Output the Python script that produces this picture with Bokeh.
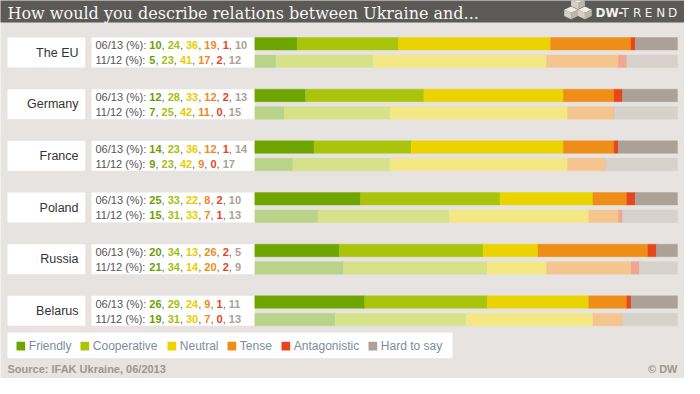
from bokeh.plotting import figure
from bokeh.models import Range1d, ColumnDataSource
from bokeh.core.properties import value
from bokeh.embed import file_html
from bokeh.resources import INLINE
import numpy as np

# ---------------- data ----------------
title = "How would you describe relations between Ukraine and..."
countries = ["The EU", "Germany", "France", "Poland", "Russia", "Belarus"]
categories = ["Friendly", "Cooperative", "Neutral", "Tense", "Antagonistic", "Hard to say"]
periods = ["06/13", "11/12"]

jun13_friendly = [10, 12, 14, 25, 20, 26]
jun13_coop = [24, 28, 23, 33, 34, 29]
jun13_neutral = [36, 33, 36, 22, 13, 24]
jun13_tense = [19, 12, 12, 8, 26, 9]
jun13_antag = [1, 2, 1, 2, 2, 1]
jun13_hard = [10, 13, 14, 10, 5, 11]

nov12_friendly = [5, 7, 9, 15, 21, 19]
nov12_coop = [23, 25, 23, 31, 34, 31]
nov12_neutral = [41, 42, 42, 33, 14, 30]
nov12_tense = [17, 11, 9, 7, 20, 7]
nov12_antag = [2, 0, 0, 1, 2, 0]
nov12_hard = [12, 15, 17, 13, 9, 13]

source_text = "Source: IFAK Ukraine, 06/2013"
copyright_text = "\u00a9 DW"

# ---------------- style ----------------
BG = "#e6e3e0"
HEADER = "#5b5a57"
dark_colors = ["#6ea500", "#aac40c", "#ebd300", "#ee8d18", "#e64619", "#aba196"]
light_colors = ["#b9d488", "#d6e28a", "#f4e885", "#f5c590", "#f1a690", "#d6d1cb"]
num_colors = ["#6a9f05", "#a5bf10", "#e9cc00", "#ee8a1c", "#e2461c", "#a9a299"]
SANS = "Liberation Sans"

W, H = 684, 378
X0, Y0 = 8, 8
p = figure(width=W, height=H, output_backend="svg", toolbar_location=None,
           x_range=Range1d(X0, X0 + W), y_range=Range1d(Y0 + H, Y0),
           x_axis_location=None, y_axis_location=None, min_border=0)
p.grid.visible = False
p.background_fill_color = BG
p.border_fill_color = BG
p.outline_line_color = None

# percent scale for the bars
BAR_L, BAR_R = 262.3, 685.0
ppx = (BAR_R - BAR_L) / 100.0
p.extra_x_ranges = {"pct": Range1d(-(BAR_L - X0) / ppx, 100 + (X0 + W - BAR_R) / ppx)}

# header
p.quad(left=[0], right=[700], top=[0], bottom=[30], fill_color=HEADER, line_color=None)
p.text(x=[15], y=[20.8], text=[title], text_color="#f6f6f4", text_font=value("DejaVu Serif"),
       text_font_size="16px", text_baseline="alphabetic")

# logo cubes
def cube(cx, cy, w, h):
    top = (cx, cy - h / 2); ur = (cx + w / 2, cy - h / 4); lr = (cx + w / 2, cy + h / 4)
    bot = (cx, cy + h / 2); ll = (cx - w / 2, cy + h / 4); ul = (cx - w / 2, cy - h / 4)
    c = (cx, cy)
    faces = [[top, ur, c, ul], [ul, c, bot, ll], [c, ur, lr, bot]]
    return [[pt[0] for pt in f] for f in faces], [[pt[1] for pt in f] for f in faces]

cxs, cys, cols = [], [], []
for (cx, cy) in [(585.5, 10.4), (578.6, 20.3), (592.4, 20.3)]:
    xs, ys = cube(cx, cy, 13.8, 12.7)
    cxs += xs; cys += ys; cols += ["#efebe5", "#d5cfc6", "#bdb6ab"]
p.patches(xs=cxs, ys=cys, fill_color=cols, line_color=None)
p.text(x=[603], y=[20], text=["DW-"], text_color="#f2f2f2", text_font=value("DejaVu Sans"),
       text_font_size="12px", text_font_style="bold", text_baseline="alphabetic")
p.text(x=[629 + k * 11.6 for k in range(5)], y=[20] * 5, text=list("TREND"), text_color="#f2f2f2",
       text_font=value("DejaVu Sans"), text_font_size="12px", text_baseline="alphabetic")

# group geometry
GROUP_TOP0, GROUP_STEP = 45.0, 51.67
tops = [GROUP_TOP0 + i * GROUP_STEP for i in range(len(countries))]

# white boxes
p.quad(left=[15] * 6, right=[92.7] * 6, top=tops, bottom=[t + 30 for t in tops],
       fill_color="white", line_color=None)
p.quad(left=[99] * 6, right=[262.5] * 6, top=tops, bottom=[t + 30 for t in tops],
       fill_color="white", line_color=None)
p.text(x=[86] * 6, y=[t + 15 for t in tops], text=countries, text_align="right", text_baseline="middle",
       text_color="#333333", text_font=value(SANS), text_font_size="12.5px")

# stacked bars
jun = np.array([jun13_friendly, jun13_coop, jun13_neutral, jun13_tense, jun13_antag, jun13_hard])
nov = np.array([nov12_friendly, nov12_coop, nov12_neutral, nov12_tense, nov12_antag, nov12_hard])
for arr, colors, yoff in [(jun, dark_colors, 6.25), (nov, light_colors, 23.75)]:
    cum = np.vstack([np.zeros(arr.shape[1]), np.cumsum(arr, axis=0)])
    ys = [t + yoff for t in tops]
    for k in range(len(categories)):
        p.hbar(y=ys, left=cum[k], right=cum[k + 1], height=12.5, x_range_name="pct",
               fill_color=colors[k], line_color=colors[k], line_width=0.4)

# value texts
AW = {" ": 278, ",": 278, "/": 278, "(": 333, ")": 333, "%": 889, ":": 278}
def tw(s, size):
    return sum(AW.get(c, 556) for c in s) * size / 1000.0

FS = 11
norm = dict(x=[], y=[], text=[], color=[])
bold = dict(x=[], y=[], text=[], color=[])
for i, t in enumerate(tops):
    for arr, per, yoff in [(jun, periods[0], 7.7), (nov, periods[1], 22.7)]:
        x = 103.0
        y = t + yoff
        pre = per + " (%): "
        norm["x"].append(x); norm["y"].append(y); norm["text"].append(pre); norm["color"].append("#555555")
        x += tw(pre, FS)
        for k in range(len(categories)):
            s = str(int(arr[k, i]))
            bold["x"].append(x); bold["y"].append(y); bold["text"].append(s); bold["color"].append(num_colors[k])
            x += tw(s, FS)
            if k < len(categories) - 1:
                norm["x"].append(x); norm["y"].append(y); norm["text"].append(","); norm["color"].append("#666666")
                x += tw(", ", FS)
p.text(x="x", y="y", text="text", text_color="color", source=ColumnDataSource(norm),
       text_font=value(SANS), text_font_size=f"{FS}px", text_baseline="middle")
p.text(x="x", y="y", text="text", text_color="color", source=ColumnDataSource(bold),
       text_font=value(SANS), text_font_size=f"{FS}px", text_font_style="bold", text_baseline="middle")

# legend
p.quad(left=[15], right=[460], top=[340], bottom=[365.7], fill_color="white", line_color=None)
sq_x = [24, 88, 175, 235, 289, 376]
p.quad(left=sq_x, right=[s + 8.7 for s in sq_x], top=[349.3] * 6, bottom=[358] * 6,
       fill_color=dark_colors, line_color=None)
p.text(x=[s + 12.3 for s in sq_x], y=[353.8] * 6, text=categories, text_baseline="middle",
       text_color="#7d8c9c", text_font=value(SANS), text_font_size="12px")

# footer
p.text(x=[15], y=[376], text=[source_text], text_baseline="middle", text_color="#9e968e",
       text_font=value(SANS), text_font_size="11px", text_font_style="bold")
p.text(x=[685], y=[376], text=[copyright_text], text_baseline="middle", text_align="right",
       text_color="#9e968e", text_font=value(SANS), text_font_size="11px", text_font_style="bold")

open("out.html", "w").write(file_html(p, INLINE))
